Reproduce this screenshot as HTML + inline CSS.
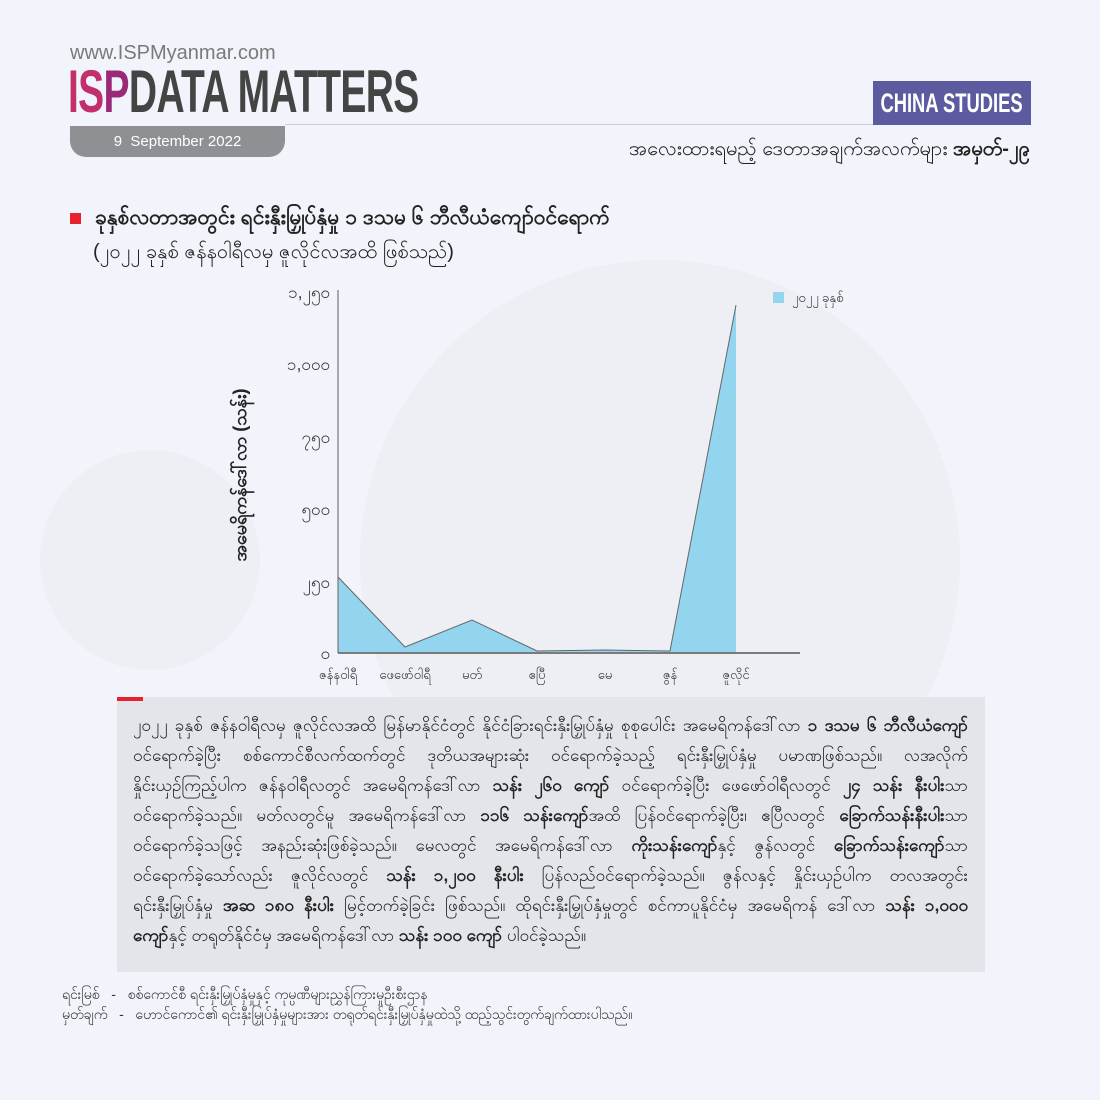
<!DOCTYPE html>
<html><head><meta charset="utf-8"><style>
*{margin:0;padding:0;box-sizing:border-box}
body{width:1100px;height:1100px;background:#f1f4fa;position:relative;overflow:hidden;font-family:"Liberation Sans","Noto Sans CJK SC",sans-serif;color:#222}
.a{position:absolute;white-space:nowrap}
.ln{position:absolute;left:133px;width:835px;height:26px;overflow:hidden;white-space:nowrap;font-size:17px;line-height:26px;color:#222;text-align:justify;text-align-last:justify}
.ln.last{text-align-last:left}
b{font-weight:bold}
</style></head><body>
<svg class="a" style="left:0;top:0" width="1100" height="1100">
<circle cx="660" cy="560" r="300" fill="#ece9ef" opacity="0.45"/>
<circle cx="150" cy="560" r="110" fill="#ece9ef" opacity="0.45"/>
</svg>
<div class="a" style="left:70px;top:42px;font-size:20px;color:#7a7a7a">www.ISPMyanmar.com</div>
<div class="a" style="left:68px;top:62px;font-size:60px;font-weight:bold;line-height:60px;transform:scaleX(0.65);transform-origin:left top;letter-spacing:-1px"><span style="color:#c22f6c">IS</span><span style="color:#9a2a78">P</span><span style="color:#444">DATA MATTERS</span></div>
<div class="a" style="left:285px;top:124px;width:745px;height:1px;background:#c9ccd6"></div>
<div class="a" style="left:70px;top:126px;width:215px;height:31px;background:#8f9094;border-radius:0 0 16px 16px;color:#fff;font-size:15px;line-height:31px;text-align:center">9&nbsp; September 2022</div>
<div class="a" style="left:873px;top:81px;width:158px;height:44px;background:#5d5b9f;color:#fff;font-weight:bold;font-size:27px;line-height:44px;text-align:center;overflow:hidden"><span style="display:inline-block;transform:scaleX(0.68);transform-origin:center;margin:0 -40px">CHINA STUDIES</span></div>
<div class="a" style="right:70px;top:135px;font-size:20px">အလေးထားရမည့် ဒေတာအချက်အလက်များ <b>အမှတ်-၂၉</b></div>
<div class="a" style="left:70px;top:213px;width:11px;height:11px;background:#e8222a"></div>
<div class="a" style="left:95px;top:204px;font-size:21px;font-weight:bold">ခုနှစ်လတာအတွင်း ရင်းနှီးမြှုပ်နှံမှု ၁ ဒသမ ၆ ဘီလီယံကျော်ဝင်ရောက်</div>
<div class="a" style="left:93px;top:238px;font-size:20px">(၂၀၂၂ ခုနှစ် ဇန်နဝါရီလမှ ဇူလိုင်လအထိ ဖြစ်သည်)</div>
<svg class="a" style="left:0;top:0" width="1100" height="700">
<polygon points="338,652 338,577 405,647 472,620 537,651 605,650 670,651 736,305 736,652" fill="#93d5ef"/>
<polyline points="338,577 405,647 472,620 537,651 605,650 670,651 736,305" fill="none" stroke="#666" stroke-width="1"/>
<line x1="338" y1="290" x2="338" y2="653" stroke="#777" stroke-width="1.2"/>
<line x1="338" y1="653" x2="800" y2="653" stroke="#555" stroke-width="1.5"/>
<g font-family="Liberation Sans,Noto Sans CJK SC,sans-serif" font-size="17" fill="#333" text-anchor="end">
<text x="330" y="298">၁,၂၅၀</text><text x="330" y="370">၁,၀၀၀</text><text x="330" y="443">၇၅၀</text><text x="330" y="515">၅၀၀</text><text x="330" y="588">၂၅၀</text><text x="330" y="659">၀</text></g>
<g font-family="Liberation Sans,Noto Sans CJK SC,sans-serif" font-size="13" fill="#333" text-anchor="middle">
<text x="338" y="679">ဇန်နဝါရီ</text><text x="405" y="679">ဖေဖော်ဝါရီ</text><text x="472" y="679">မတ်</text><text x="537" y="679">ဧပြီ</text><text x="605" y="679">မေ</text><text x="670" y="679">ဇွန်</text><text x="736" y="679">ဇူလိုင်</text></g>
<text transform="translate(246,475) rotate(-90)" text-anchor="middle" font-family="Liberation Sans,Noto Sans CJK SC,sans-serif" font-size="18" font-weight="bold" fill="#222">အမေရိကန်ဒေါ်လာ (သန်း)</text>
<rect x="773" y="292" width="11" height="11" fill="#93d5ef"/>
<text x="792" y="302" font-family="Liberation Sans,Noto Sans CJK SC,sans-serif" font-size="13" fill="#333">၂၀၂၂ ခုနှစ်</text>
</svg>
<div class="a" style="left:117px;top:697px;width:868px;height:275px;background:#e4e5ea"></div>
<div class="a" style="left:117px;top:697px;width:26px;height:4px;background:#e8222a"></div>
<div class="ln" style="top:713px">၂၀၂၂ ခုနှစ် ဇန်နဝါရီလမှ ဇူလိုင်လအထိ မြန်မာနိုင်ငံတွင် နိုင်ငံခြားရင်းနှီးမြှုပ်နှံမှု စုစုပေါင်း အမေရိကန်ဒေါ်လာ <b>၁ ဒသမ ၆ ဘီလီယံကျော်</b></div>
<div class="ln" style="top:743px">ဝင်ရောက်ခဲ့ပြီး စစ်ကောင်စီလက်ထက်တွင် ဒုတိယအများဆုံး ဝင်ရောက်ခဲ့သည့် ရင်းနှီးမြှုပ်နှံမှု ပမာဏဖြစ်သည်။ လအလိုက်</div>
<div class="ln" style="top:773px">နှိုင်းယှဉ်ကြည့်ပါက ဇန်နဝါရီလတွင် အမေရိကန်ဒေါ်လာ <b>သန်း ၂၆၀ ကျော်</b> ဝင်ရောက်ခဲ့ပြီး ဖေဖော်ဝါရီလတွင် <b>၂၄ သန်း နီးပါး</b>သာ</div>
<div class="ln" style="top:803px">ဝင်ရောက်ခဲ့သည်။ မတ်လတွင်မူ အမေရိကန်ဒေါ်လာ <b>၁၁၆ သန်းကျော်</b>အထိ ပြန်ဝင်ရောက်ခဲ့ပြီး၊ ဧပြီလတွင် <b>ခြောက်သန်းနီးပါး</b>သာ</div>
<div class="ln" style="top:833px">ဝင်ရောက်ခဲ့သဖြင့် အနည်းဆုံးဖြစ်ခဲ့သည်။ မေလတွင် အမေရိကန်ဒေါ်လာ <b>ကိုးသန်းကျော်</b>နှင့် ဇွန်လတွင် <b>ခြောက်သန်းကျော်</b>သာ</div>
<div class="ln" style="top:863px">ဝင်ရောက်ခဲ့သော်လည်း ဇူလိုင်လတွင် <b>သန်း ၁,၂၀၀ နီးပါး</b> ပြန်လည်ဝင်ရောက်ခဲ့သည်။ ဇွန်လနှင့် နှိုင်းယှဉ်ပါက တလအတွင်း</div>
<div class="ln" style="top:893px">ရင်းနှီးမြှုပ်နှံမှု <b>အဆ ၁၈၀ နီးပါး</b> မြင့်တက်ခဲ့ခြင်း ဖြစ်သည်။ ထိုရင်းနှီးမြှုပ်နှံမှုတွင် စင်ကာပူနိုင်ငံမှ အမေရိကန် ဒေါ်လာ <b>သန်း ၁,၀၀၀</b></div>
<div class="ln last" style="top:923px"><b>ကျော်</b>နှင့် တရုတ်နိုင်ငံမှ အမေရိကန်ဒေါ်လာ <b>သန်း ၁၀၀ ကျော်</b> ပါဝင်ခဲ့သည်။</div>
<div class="a" style="left:62px;top:985px;font-size:14px;color:#333">ရင်းမြစ် &nbsp; - &nbsp; စစ်ကောင်စီ ရင်းနှီးမြှုပ်နှံမှုနှင့် ကုမ္ပဏီများညွှန်ကြားမှုဦးစီးဌာန</div>
<div class="a" style="left:62px;top:1005px;font-size:14px;color:#333">မှတ်ချက် &nbsp; - &nbsp; ဟောင်ကောင်၏ ရင်းနှီးမြှုပ်နှံမှုများအား တရုတ်ရင်းနှီးမြှုပ်နှံမှုထဲသို့ ထည့်သွင်းတွက်ချက်ထားပါသည်။</div>
</body></html>
